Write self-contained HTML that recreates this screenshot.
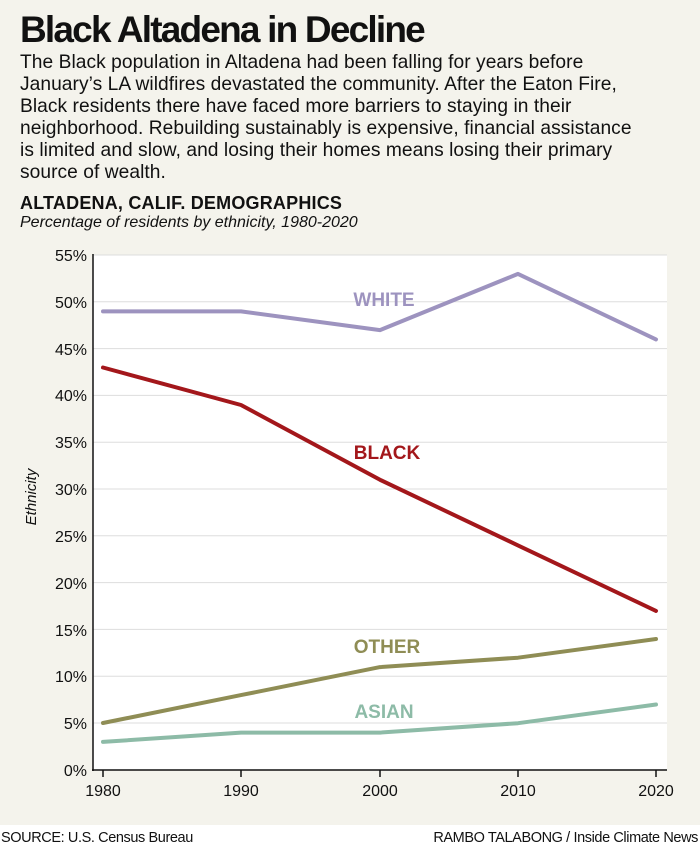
<!DOCTYPE html>
<html><head><meta charset="utf-8"><style>
body{margin:0;width:700px;height:851px;background:#fff;font-family:"Liberation Sans Narrow","Liberation Sans",sans-serif;overflow:hidden}
#bg{position:absolute;left:0;top:0;width:700px;height:825px;background:#f4f3ec}
.t{position:absolute;left:20px;color:#111;white-space:nowrap}
</style></head><body>
<div id="bg"></div>
<div class="t" style="top:9px;font-size:37px;font-weight:bold;letter-spacing:-1.8px;font-family:'Liberation Sans',sans-serif">Black Altadena in Decline</div>
<div class="t" style="top:52px;font-size:19.2px;line-height:22px;letter-spacing:0.05px">The Black population in Altadena had been falling for years before<br>January’s LA wildfires devastated the community. After the Eaton Fire,<br>Black residents there have faced more barriers to staying in their<br>neighborhood. Rebuilding sustainably is expensive, financial assistance<br>is limited and slow, and losing their homes means losing their primary<br>source of wealth.</div>
<div class="t" style="top:193px;font-size:18px;font-weight:bold;letter-spacing:0.2px">ALTADENA, CALIF. DEMOGRAPHICS</div>
<div class="t" style="top:214px;font-size:16px;font-style:italic">Percentage of residents by ethnicity, 1980-2020</div>
<svg width="700" height="851" style="position:absolute;left:0;top:0" font-family="Liberation Sans Narrow, Liberation Sans, sans-serif">
<rect x="93" y="255" width="574" height="515" fill="#fff"/>
<g stroke="#ddd" stroke-width="1">
<line x1="93" x2="667" y1="255" y2="255"/><line x1="93" x2="667" y1="301.8" y2="301.8"/><line x1="93" x2="667" y1="348.6" y2="348.6"/><line x1="93" x2="667" y1="395.4" y2="395.4"/><line x1="93" x2="667" y1="442.2" y2="442.2"/><line x1="93" x2="667" y1="489" y2="489"/><line x1="93" x2="667" y1="535.8" y2="535.8"/><line x1="93" x2="667" y1="582.6" y2="582.6"/><line x1="93" x2="667" y1="629.4" y2="629.4"/><line x1="93" x2="667" y1="676.2" y2="676.2"/><line x1="93" x2="667" y1="723" y2="723"/>
</g>
<g font-size="16" fill="#111" text-anchor="end">
<text x="87" y="261">55%</text><text x="87" y="308">50%</text><text x="87" y="355">45%</text><text x="87" y="401">40%</text><text x="87" y="448">35%</text><text x="87" y="495">30%</text><text x="87" y="542">25%</text><text x="87" y="589">20%</text><text x="87" y="636">15%</text><text x="87" y="682">10%</text><text x="87" y="729">5%</text><text x="87" y="776">0%</text>
</g>
<g stroke="#111" stroke-width="1.5">
<line x1="93" y1="254" x2="93" y2="771"/><line x1="92" y1="770" x2="667" y2="770"/>
<line x1="103" y1="770" x2="103" y2="777"/><line x1="241" y1="770" x2="241" y2="777"/><line x1="380" y1="770" x2="380" y2="777"/><line x1="518" y1="770" x2="518" y2="777"/><line x1="656" y1="770" x2="656" y2="777"/>
</g>
<g font-size="16" fill="#111" text-anchor="middle">
<text x="103" y="796">1980</text><text x="241" y="796">1990</text><text x="380" y="796">2000</text><text x="518" y="796">2010</text><text x="656" y="796">2020</text>
</g>
<text transform="translate(36,497) rotate(-90)" font-size="15" font-style="italic" text-anchor="middle" fill="#111">Ethnicity</text>
<g fill="none" stroke-width="4" stroke-linejoin="round" stroke-linecap="round">
<polyline stroke="#9d93bf" points="103,311.4 241,311.4 380,330.1 518,273.9 656,339.4"/>
<polyline stroke="#a3171b" points="103,367.5 241,405 380,479.8 518,545.4 656,610.9"/>
<polyline stroke="#8f8d55" points="103,723 241,695.1 380,667.1 518,657.7 656,639"/>
<polyline stroke="#8dbba7" points="103,741.9 241,732.6 380,732.6 518,723.2 656,704.5"/>
</g>
<g font-size="19" font-weight="bold" text-anchor="middle">
<text x="384" y="306" fill="#9d93bf">WHITE</text>
<text x="387" y="459" fill="#a3171b">BLACK</text>
<text x="387" y="653" fill="#8f8d55">OTHER</text>
<text x="384" y="718" fill="#8dbba7">ASIAN</text>
</g>
<text x="1" y="842" font-size="14.5" fill="#111" letter-spacing="-0.4">SOURCE: U.S. Census Bureau</text>
<text x="698" y="842" font-size="14.5" fill="#111" text-anchor="end" letter-spacing="-0.4">RAMBO TALABONG / Inside Climate News</text>
</svg>
</body></html>
